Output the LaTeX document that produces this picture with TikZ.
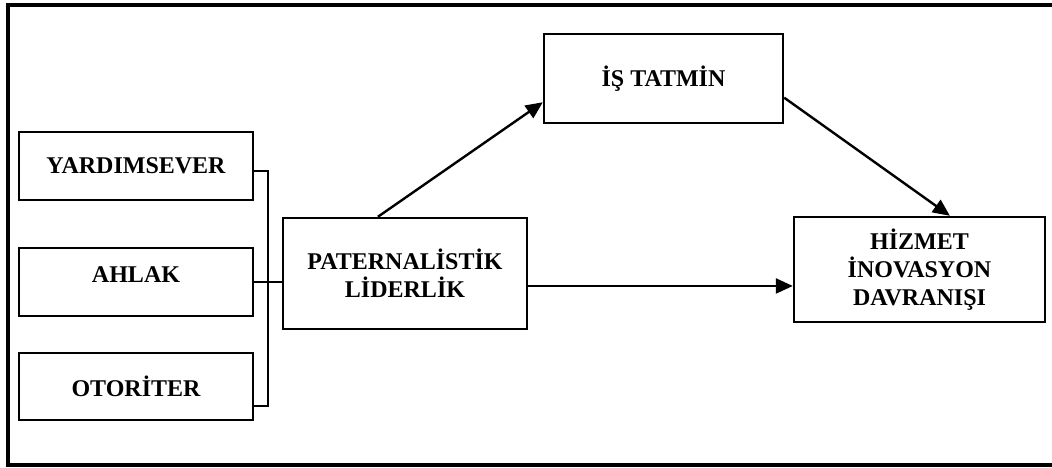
\documentclass[tikz,border=0pt]{standalone}
\usepackage{fontspec}
\setmainfont{Liberation Serif}
\usetikzlibrary{arrows.meta}
\usetikzlibrary{calc}

\begin{document}
\begin{tikzpicture}[x=1pt, y=-1pt,
    box/.style={draw, line width=2.4pt, align=center, inner sep=0pt,
      font=\fontsize{24}{28}\selectfont\bfseries},
    arr/.style={line width=2.4pt, -{Triangle[length=17pt,width=15pt]}},
    lnk/.style={line width=2.2pt}]

  \useasboundingbox (0,0) rectangle (1052,468);

  % outer frame (open on the right)
  \draw[line width=4.5pt] (1060,5) -- (8,5) -- (8,465) -- (1060,465);

  \node[box, minimum width=234pt, minimum height=68pt] (yard) at (136,166) {YARDIMSEVER};
  \node[box, minimum width=234pt, minimum height=68pt, text depth=14pt] (ahlak) at (136,282) {AHLAK};
  \node[box, minimum width=234pt, minimum height=67pt] (otor) at (136,386.5) {OTORİTER};

  \node[box, minimum width=244pt, minimum height=111pt] (pat) at (405,273.5) {PATERNALİSTİK\\LİDERLİK};
  \node[box, minimum width=239pt, minimum height=89pt] (tat) at (663.5,78.5) {İŞ TATMİN};
  \node[box, minimum width=251pt, minimum height=105pt] (hiz) at (919.5,269.5) {HİZMET\\İNOVASYON\\DAVRANIŞI};

  % bracket
  \coordinate (brt) at (268,171);
  \coordinate (brb) at (268,406);

  \draw[lnk] (yard.east |- brt) -- (brt) -- (brb) -- (otor.east |- brb);
  \draw[lnk] (ahlak.east) -- (pat.west |- ahlak.east);

  % arrows
  \coordinate (p1) at ($(pat.north west)!0.39!(pat.north east)$);
  \coordinate (t1) at ($(tat.north west)!0.76!(tat.south west)$);
  \coordinate (t2) at ($(tat.north east)!0.71!(tat.south east)$);
  \coordinate (h1) at ($(hiz.north west)!0.62!(hiz.north east)$);
  \coordinate (p2) at ($(pat.north east)!0.61!(pat.south east)$);

  \draw[arr] (p1) -- (t1);
  \draw[arr] (t2) -- (h1);
  \draw[arr] (p2) -- (hiz.west |- p2);

\end{tikzpicture}
\end{document}
